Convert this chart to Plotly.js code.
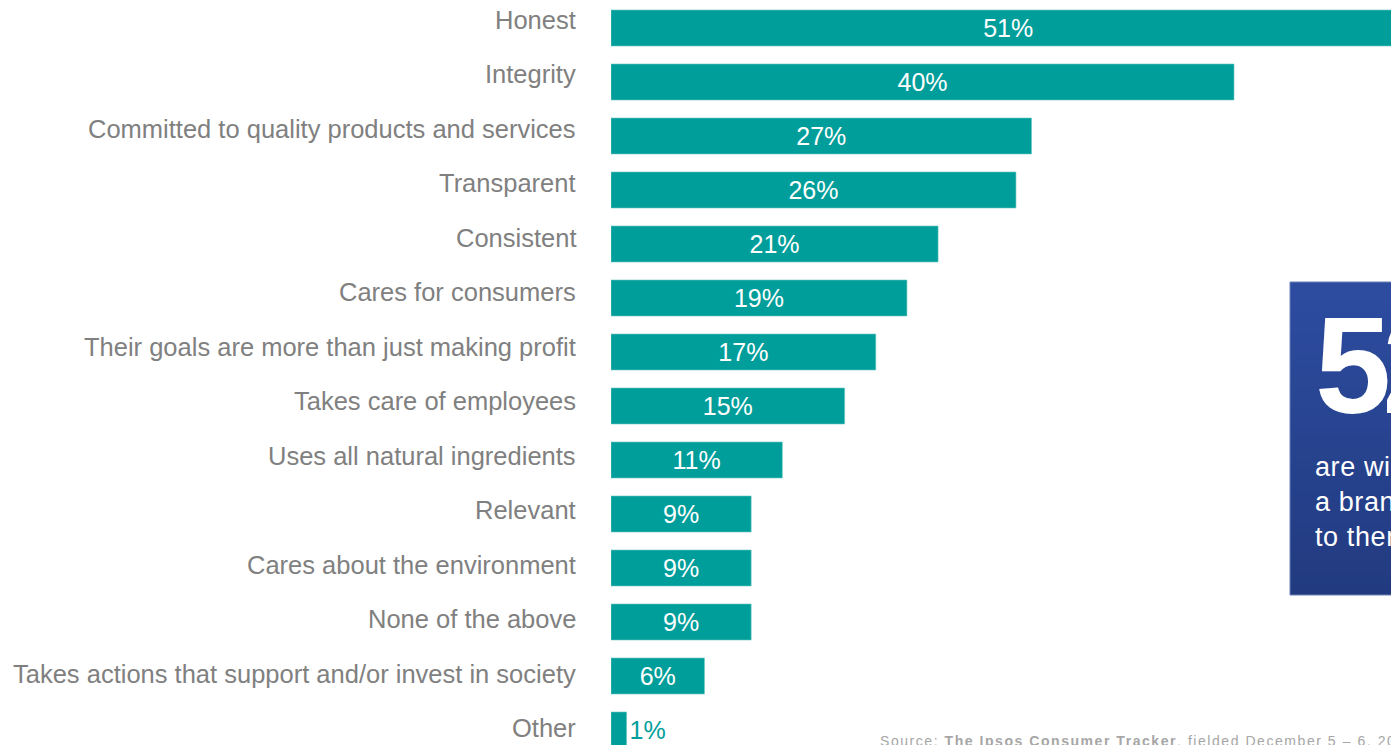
<!DOCTYPE html>
<html>
<head>
<meta charset="utf-8">
<script src="https://cdn.plot.ly/plotly-3.0.1.min.js"></script>
<style>
html,body{margin:0;padding:0;background:#fff;overflow:hidden;}
#chart{width:1391px;height:745px;}
</style>
</head>
<body>
<div id="chart"></div>
<script>
const categories = [
  "Honest",
  "Integrity",
  "Committed to quality products and services",
  "Transparent",
  "Consistent",
  "Cares for consumers",
  "Their goals are more than just making profit",
  "Takes care of employees",
  "Uses all natural ingredients",
  "Relevant",
  "Cares about the environment",
  "None of the above",
  "Takes actions that support and/or invest in society",
  "Other"
];
const values = [51, 40, 27, 26, 21, 19, 17, 15, 11, 9, 9, 9, 6, 1];
const valueLabels = values.map(v => v + "%");

(function () {
const TEAL = "#009E9A";
const W = 1391, H = 745, L = 611;
const FONT = "Liberation Sans, Arial, sans-serif";
const px = x => (x - L) / (W - L);
const py = y => 1 - y / H;

const textPositions = values.map(v => v >= 3 ? "inside" : "outside");

const trace = {
  type: "bar",
  orientation: "h",
  y: categories,
  x: values,
  text: valueLabels,
  textposition: textPositions,
  insidetextanchor: "middle",
  constraintext: "none",
  cliponaxis: true,
  insidetextfont: {family: FONT, size: 25, color: "#ffffff"},
  outsidetextfont: {family: FONT, size: 25, color: TEAL},
  marker: {color: TEAL, line: {color: "#6cc7c3", width: 0.6}},
  width: 0.667,
  hoverinfo: "skip"
};

const annotations = categories.map((c, i) => ({
  xref: "paper", yref: "y",
  x: 0, y: c,
  xanchor: "right", yanchor: "middle",
  xshift: -33,
  yshift: 8 - 6 * i / 13,
  text: c,
  showarrow: false,
  font: {family: FONT, size: 25.5, color: "#808080"}
}));

annotations.push({
  xref: "paper", yref: "paper",
  x: px(1313), y: py(365),
  xanchor: "left", yanchor: "middle",
  text: "<span style=\"letter-spacing:-9px\"><b>52%</b></span>",
  showarrow: false,
  font: {family: FONT, size: 137, color: "#ffffff"}
});
annotations.push({
  xref: "paper", yref: "paper",
  x: px(1313), y: py(502),
  xanchor: "left", yanchor: "middle",
  align: "left",
  text: "<span style=\"letter-spacing:0.6px\">are willing to pay more for<br>a brand that matters<br>to them</span>",
  showarrow: false,
  font: {family: FONT, size: 27, color: "#ffffff"}
});
annotations.push({
  xref: "paper", yref: "paper",
  x: px(878), y: py(740.5),
  xanchor: "left", yanchor: "middle",
  text: "<span style=\"letter-spacing:1.55px\">Source: <b>The Ipsos Consumer Tracker</b>, fielded December 5 – 6, 2019</span>",
  showarrow: false,
  font: {family: FONT, size: 14, color: "#a6a6a6"}
});

const shapes = [];
const boxTop = 282, boxBot = 595, n = 30;
const c0 = [45, 76, 160], c1 = [34, 59, 128];
for (let k = 0; k < n; k++) {
  const t = k / (n - 1);
  const c = c0.map((a, j) => Math.round(a + (c1[j] - a) * t));
  const y0 = boxTop + (boxBot - boxTop) * k / n;
  shapes.push({
    type: "rect", xref: "paper", yref: "paper", layer: "below",
    x0: px(1290), x1: px(1420), y0: py(boxBot), y1: py(y0),
    fillcolor: `rgb(${c[0]},${c[1]},${c[2]})`,
    line: {width: 0}
  });
}
shapes.push({
  type: "rect", xref: "paper", yref: "paper", layer: "below",
  x0: px(1290), x1: px(1420), y0: py(boxBot), y1: py(boxTop),
  fillcolor: "rgba(0,0,0,0)",
  line: {color: "#6d80b8", width: 1}
});

const pitch = 54.0, firstCenter = 28;
const r0 = -firstCenter / pitch;
const r1 = r0 + H / pitch;

const layout = {
  width: W, height: H,
  margin: {l: L, r: 0, t: 0, b: 0, pad: 0},
  paper_bgcolor: "#ffffff",
  plot_bgcolor: "rgba(0,0,0,0)",
  showlegend: false,
  xaxis: {range: [0, (W - L) / 15.575], visible: false, fixedrange: true},
  yaxis: {type: "category", categoryorder: "array", categoryarray: categories,
          range: [r1, r0], showticklabels: false, showgrid: false, zeroline: false,
          showline: false, ticks: "", fixedrange: true},
  annotations: annotations,
  shapes: shapes,
  font: {family: FONT}
};

Plotly.newPlot("chart", [trace], layout, {displayModeBar: false, staticPlot: true});
})();
</script>
</body>
</html>
